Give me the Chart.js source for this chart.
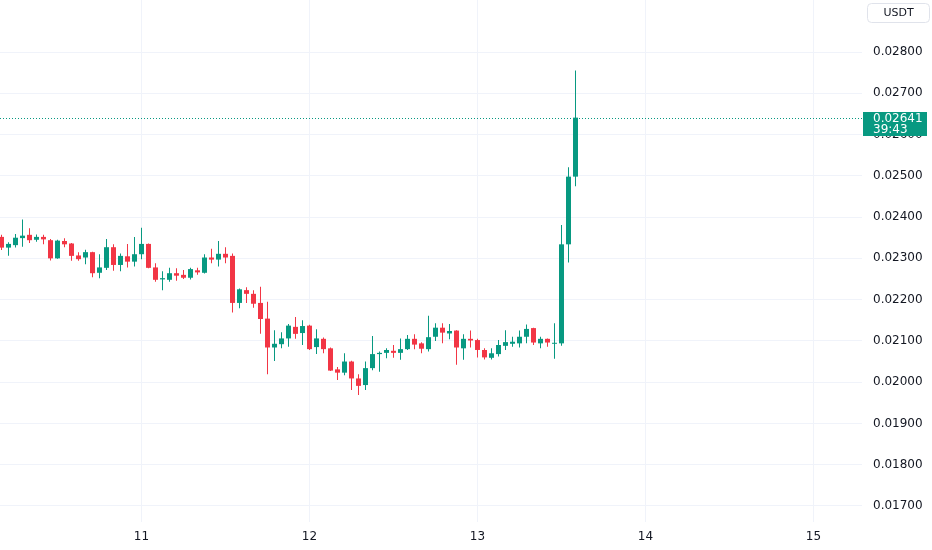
<!DOCTYPE html>
<html>
<head>
<meta charset="utf-8">
<script src="https://cdn.jsdelivr.net/npm/chart.js@4.4.0/dist/chart.umd.min.js"></script>
<style>
  html, body { margin: 0; padding: 0; background: #ffffff; }
  #wrap { width: 932px; height: 550px; position: relative; }
</style>
</head>
<body>
<div id="wrap"><canvas id="myChart"></canvas></div>
<script>
// hourly candles, hour 0 = day 11 00:00, first candle is day 10 04:00
const firstHour = -20;

const opens = [
  0.02352, 0.02326, 0.02332, 0.02349, 0.02357, 0.02345, 0.02352, 0.02344, 0.02300, 0.02342,
  0.02336, 0.02307, 0.02302, 0.02315, 0.02265, 0.02277, 0.02327, 0.02284, 0.02305, 0.02292,
  0.02310, 0.02335, 0.02278, 0.02249, 0.02248, 0.02264, 0.02260, 0.02253, 0.02271, 0.02265,
  0.02302, 0.02297, 0.02311, 0.02306, 0.02192, 0.02223, 0.02214, 0.02192, 0.02154, 0.02084,
  0.02092, 0.02106, 0.02134, 0.02119, 0.02137, 0.02085, 0.02105, 0.02082, 0.02031, 0.02023,
  0.02050, 0.02009, 0.01993, 0.02034, 0.02068, 0.02071, 0.02076, 0.02071, 0.02080, 0.02105,
  0.02094, 0.02080, 0.02110, 0.02132, 0.02118, 0.02125, 0.02082, 0.02105, 0.02102, 0.02078,
  0.02059, 0.02068, 0.02088, 0.02093, 0.02094, 0.02110, 0.02131, 0.02094, 0.02105, 0.02093,
  0.02094, 0.02334, 0.02498
];
const highs = [
  0.02357, 0.02339, 0.02359, 0.02394, 0.02373, 0.02358, 0.02357, 0.02347, 0.02345, 0.02349,
  0.02337, 0.02315, 0.02321, 0.02316, 0.02310, 0.02347, 0.02334, 0.02312, 0.02335, 0.02352,
  0.02374, 0.02336, 0.02288, 0.02269, 0.02277, 0.02276, 0.02272, 0.02277, 0.02277, 0.02310,
  0.02323, 0.02342, 0.02327, 0.02312, 0.02227, 0.02230, 0.02223, 0.02231, 0.02195, 0.02126,
  0.02121, 0.02141, 0.02158, 0.02150, 0.02139, 0.02128, 0.02108, 0.02084, 0.02037, 0.02070,
  0.02052, 0.02019, 0.02050, 0.02112, 0.02074, 0.02082, 0.02090, 0.02106, 0.02114, 0.02116,
  0.02097, 0.02161, 0.02143, 0.02143, 0.02141, 0.02126, 0.02116, 0.02125, 0.02105, 0.02082,
  0.02082, 0.02102, 0.02126, 0.02110, 0.02125, 0.02140, 0.02132, 0.02110, 0.02106, 0.02143,
  0.02381, 0.02521, 0.02755
];
const lows = [
  0.02320, 0.02306, 0.02326, 0.02328, 0.02337, 0.02340, 0.02334, 0.02295, 0.02299, 0.02327,
  0.02294, 0.02294, 0.02286, 0.02254, 0.02252, 0.02272, 0.02270, 0.02269, 0.02278, 0.02280,
  0.02298, 0.02276, 0.02243, 0.02223, 0.02243, 0.02246, 0.02250, 0.02249, 0.02260, 0.02263,
  0.02288, 0.02280, 0.02288, 0.02169, 0.02179, 0.02192, 0.02180, 0.02117, 0.02019, 0.02051,
  0.02082, 0.02086, 0.02105, 0.02090, 0.02078, 0.02068, 0.02070, 0.02027, 0.02005, 0.02017,
  0.01981, 0.01969, 0.01981, 0.02029, 0.02025, 0.02058, 0.02059, 0.02054, 0.02078, 0.02080,
  0.02070, 0.02074, 0.02100, 0.02094, 0.02104, 0.02042, 0.02054, 0.02084, 0.02060, 0.02055,
  0.02055, 0.02062, 0.02078, 0.02086, 0.02084, 0.02094, 0.02090, 0.02082, 0.02086, 0.02057,
  0.02088, 0.02290, 0.02475
];
const closes = [
  0.02326, 0.02335, 0.02350, 0.02355, 0.02344, 0.02352, 0.02346, 0.02300, 0.02343, 0.02334,
  0.02306, 0.02298, 0.02315, 0.02264, 0.02278, 0.02327, 0.02284, 0.02306, 0.02292, 0.02310,
  0.02335, 0.02277, 0.02248, 0.02252, 0.02264, 0.02258, 0.02253, 0.02274, 0.02266, 0.02302,
  0.02297, 0.02311, 0.02302, 0.02192, 0.02225, 0.02214, 0.02190, 0.02153, 0.02084, 0.02093,
  0.02106, 0.02137, 0.02117, 0.02136, 0.02080, 0.02106, 0.02080, 0.02028, 0.02023, 0.02050,
  0.02009, 0.01991, 0.02034, 0.02068, 0.02071, 0.02078, 0.02071, 0.02080, 0.02105, 0.02091,
  0.02081, 0.02109, 0.02132, 0.02120, 0.02124, 0.02084, 0.02105, 0.02101, 0.02078, 0.02060,
  0.02070, 0.02090, 0.02097, 0.02098, 0.02110, 0.02129, 0.02096, 0.02105, 0.02096, 0.02095,
  0.02334, 0.02498, 0.02641
];

const dayLabels = ['11', '12', '13', '14', '15'];
const dayHours = [0, 24, 48, 72, 96];
const priceTicks = [0.017, 0.018, 0.019, 0.020, 0.021, 0.022, 0.023, 0.024, 0.025, 0.026, 0.027, 0.028];
const currency = 'USDT';
const countdown = '39:43';

const UP = '#089981';
const DOWN = '#f23645';
const FONT = "'DejaVu Sans', sans-serif";
const TEXT = '#131722';

const hours = opens.map((o, i) => firstHour + i);
const candleColors = opens.map((o, i) => closes[i] >= o ? UP : DOWN);
const lastClose = closes[closes.length - 1];

Chart.defaults.font.family = FONT;
Chart.defaults.font.size = 12;
Chart.defaults.color = TEXT;

// dotted last price line + the boxes on the price axis
const priceLabels = {
  id: 'priceLabels',
  afterDatasetsDraw(chart) {
    const {ctx, chartArea} = chart;
    const py = Math.round(chart.scales.y.getPixelForValue(lastClose)) + 0.5;
    ctx.save();
    ctx.strokeStyle = UP;
    ctx.lineWidth = 1;
    ctx.setLineDash([1, 2]);
    ctx.beginPath();
    ctx.moveTo(chartArea.left, py);
    ctx.lineTo(chartArea.right, py);
    ctx.stroke();
    ctx.restore();
  },
  afterDraw(chart) {
    const {ctx, chartArea} = chart;
    const py = Math.round(chart.scales.y.getPixelForValue(lastClose));
    ctx.save();
    // last price box
    ctx.fillStyle = UP;
    ctx.fillRect(chartArea.right + 1, py - 6, 64, 24);
    ctx.fillStyle = '#ffffff';
    ctx.font = '12px ' + FONT;
    ctx.textAlign = 'left';
    ctx.textBaseline = 'middle';
    ctx.fillText(lastClose.toFixed(5), chartArea.right + 11, py + 1);
    ctx.fillText(countdown, chartArea.right + 11, py + 12);
    // currency box
    ctx.beginPath();
    ctx.roundRect(chartArea.right + 5.5, 3.5, 62, 19, 4);
    ctx.fillStyle = '#ffffff';
    ctx.fill();
    ctx.strokeStyle = '#e0e3eb';
    ctx.lineWidth = 1;
    ctx.stroke();
    ctx.fillStyle = TEXT;
    ctx.font = '11px ' + FONT;
    ctx.textAlign = 'center';
    ctx.fillText(currency, chartArea.right + 36.5, 13.5);
    ctx.restore();
  }
};

function createChart() {
  const ctx = document.getElementById('myChart').getContext('2d');

  const wickData = hours.map((h, i) => ({x: h, y: [lows[i], highs[i]]}));
  const bodyData = hours.map((h, i) => ({x: h, y: [opens[i], closes[i]]}));

  new Chart(ctx, {
    type: 'bar',
    data: {
      datasets: [{
        label: 'wicks',
        data: wickData,
        backgroundColor: candleColors,
        barThickness: 1,
        grouped: false,
        inflateAmount: 0
      }, {
        label: 'bodies',
        data: bodyData,
        backgroundColor: candleColors,
        barThickness: 5,
        minBarLength: 1,
        grouped: false,
        inflateAmount: 0
      }]
    },
    options: {
      responsive: true,
      maintainAspectRatio: false,
      animation: false,
      layout: {padding: 0},
      plugins: {
        legend: {display: false},
        tooltip: {enabled: false}
      },
      scales: {
        x: {
          type: 'linear',
          position: 'bottom',
          min: -20.214,
          max: 102.929,
          bounds: 'data',
          offset: false,
          grid: {color: '#f0f3fa', offset: false, drawTicks: false},
          border: {display: false},
          afterBuildTicks: s => { s.ticks = dayHours.map(v => ({value: v})); },
          afterFit: s => { s.height = 28; s.paddingLeft = 0; s.paddingRight = 0; },
          ticks: {
            autoSkip: false,
            maxRotation: 0,
            padding: 8,
            color: TEXT,
            font: {size: 12},
            callback: (v, i) => dayLabels[i]
          }
        },
        y: {
          type: 'linear',
          position: 'right',
          min: 0.0166116,
          max: 0.0292600,
          bounds: 'data',
          grid: {color: '#f0f3fa', drawTicks: false},
          border: {display: false},
          afterBuildTicks: s => { s.ticks = priceTicks.map(v => ({value: v})); },
          afterFit: s => { s.width = 70; s.paddingTop = 0; s.paddingBottom = 0; },
          ticks: {
            padding: 11,
            color: TEXT,
            font: {size: 12},
            callback: v => v.toFixed(5)
          }
        }
      }
    },
    plugins: [priceLabels]
  });
}

createChart();
</script>
</body>
</html>
